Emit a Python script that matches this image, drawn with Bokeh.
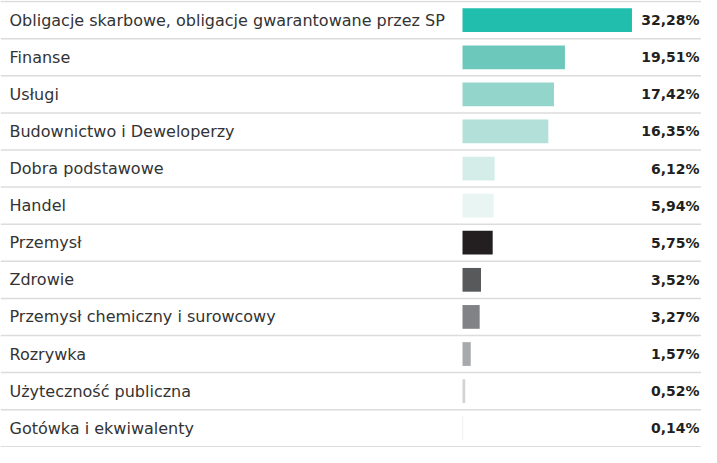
from bokeh.plotting import figure
from bokeh.models import ColumnDataSource, Range1d
from bokeh.core.properties import value
from bokeh.embed import file_html
from bokeh.resources import INLINE

categories = [
    "Obligacje skarbowe, obligacje gwarantowane przez SP",
    "Finanse",
    "Usługi",
    "Budownictwo i Deweloperzy",
    "Dobra podstawowe",
    "Handel",
    "Przemysł",
    "Zdrowie",
    "Przemysł chemiczny i surowcowy",
    "Rozrywka",
    "Użyteczność publiczna",
    "Gotówka i ekwiwalenty",
]
shares = [32.28, 19.51, 17.42, 16.35, 6.12, 5.94, 5.75, 3.52, 3.27, 1.57, 0.52, 0.14]
value_labels = ["32,28%", "19,51%", "17,42%", "16,35%", "6,12%", "5,94%",
                "5,75%", "3,52%", "3,27%", "1,57%", "0,52%", "0,14%"]
colors = ["#21bdad", "#6cc8bb", "#93d5ca", "#b3e0d9", "#d4ede9", "#e8f5f2",
          "#231f20", "#58595b", "#808285", "#a7a9ac", "#d1d3d4", "#e6e7e8"]

W, H = 701, 447
px_per_unit = 5.25
bar_x0 = 462
x_start = -bar_x0 / px_per_unit
x_end = (W - bar_x0) / px_per_unit

n = len(categories)
rows = list(range(n))
src = ColumnDataSource(dict(
    row=[r + 0.5 for r in rows],
    share=shares,
    cat=categories,
    lab=value_labels,
    color=colors,
    zero=[0] * n,
    lx=[x_start + 9 / px_per_unit] * n,
    vx=[x_end - 2 / px_per_unit] * n,
))

p = figure(width=W, height=H, output_backend="svg", toolbar_location=None,
           x_range=Range1d(x_start, x_end), y_range=Range1d(n + 0.02, -0.03),
           min_border=0, outline_line_color=None)
p.axis.visible = False
p.grid.visible = False
p.background_fill_color = "white"
p.border_fill_color = "white"

# row separators
sep_y = list(range(n + 1))
p.segment(x0=[x_start] * len(sep_y), x1=[x_end] * len(sep_y), y0=sep_y, y1=sep_y,
          line_color="#dcdcdc", line_width=1.5)

p.hbar(y="row", left="zero", right="share", height=0.64, color="color",
       line_color=None, source=src)

p.text(x="lx", y="row", text="cat", source=src, text_align="left",
       text_baseline="middle", text_font=value("DejaVu Sans"), text_font_size="16px",
       text_color="#333333")
p.text(x="vx", y="row", text="lab", source=src, text_align="right",
       text_baseline="middle", text_font=value("DejaVu Sans"), text_font_size="14px",
       text_font_style="bold", text_color="#231f20")

open("out.html", "w").write(file_html(p, INLINE))
